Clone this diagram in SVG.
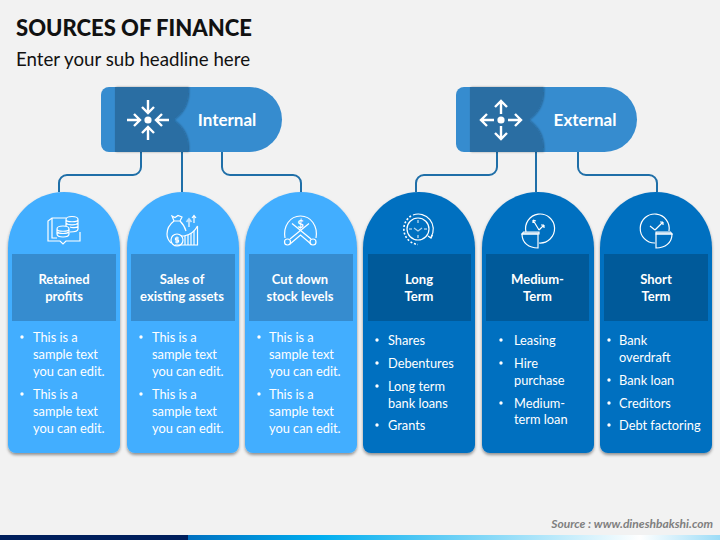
<svg xmlns="http://www.w3.org/2000/svg" width="720" height="540" viewBox="0 0 720 540">
<style>
text{font-family:"Lato","Open Sans","Liberation Sans",sans-serif;fill:#fff}
.t{font-size:12.800px}
.h{font-size:13px;font-weight:700;text-anchor:middle}
.n{font-size:17px;font-weight:700;text-anchor:middle}
.lc{fill:#42AEFF;filter:url(#s)}
.dc{fill:#0070C0;filter:url(#s)}
.lb{fill:#368CCF}
.db{fill:#005A9A}
.c{fill:none;stroke:#1F6FA8;stroke-width:2}
.i{fill:none;stroke:#fff;stroke-width:1.200}
.a{fill:none;stroke:#fff;stroke-width:2.400}
.p{fill:#368CCF}
.k{fill:#2A6EA3;filter:url(#s2)}
.b{fill:#fff}
</style>
<defs>
<filter id="s" x="-10%" y="-5%" width="120%" height="110%"><feDropShadow dx="0" dy="2" stdDeviation="1.500" flood-color="#000" flood-opacity=".4"/></filter>
<filter id="s2" x="-10%" y="-10%" width="120%" height="120%"><feDropShadow dx="1" dy="0" stdDeviation="1.200" flood-color="#000" flood-opacity=".35"/></filter>
<linearGradient id="g"><stop offset="0" stop-color="#0070C0"/><stop offset=".25" stop-color="#00AEEF"/><stop offset=".85" stop-color="#fff"/><stop offset="1" stop-color="#9CDCF7"/></linearGradient>
<path id="card" d="M0 56A56 56 0 0 1 112 56V253a8 8 0 0 1-8 8H8a8 8 0 0 1-8-8Z"/>
<path id="pill" d="M8 87H148.500A32.500 32.500 0 0 1 148.500 152H8a8 8 0 0 1-8-8V95a8 8 0 0 1 8-8Z"/>
<path id="dark" d="M14 87H87C88 103 82 113 72 120C82 127 88 137 87 152H14Z"/>
</defs>
<rect width="720" height="540" fill="#F2F2F2"/>
<text x="16" y="36" style="font-size:22px;font-weight:900;fill:#111" textLength="236" lengthAdjust="spacingAndGlyphs">SOURCES OF FINANCE</text>
<text x="16" y="66" style="font-size:18.700px;fill:#111">Enter your sub headline here</text>

<g id="connectors">
<path class="c" d="M141 152V167a8 8 0 0 1-8 8H67a8 8 0 0 0-8 8V192"/>
<path class="c" d="M182 152V192"/>
<path class="c" d="M222 152V167a8 8 0 0 0 8 8H293a8 8 0 0 1 8 8V192"/>
<path class="c" d="M497 152V167a8 8 0 0 1-8 8H424a8 8 0 0 0-8 8V192"/>
<path class="c" d="M536 152V192"/>
<path class="c" d="M578 152V167a8 8 0 0 0 8 8H649a8 8 0 0 1 8 8V192"/>
</g>

<g id="node-internal" transform="translate(101 0)">
<use href="#pill" class="p"/><use href="#dark" class="k"/>
<circle cx="47" cy="120" r="3.600" class="b"/>
<g transform="translate(47 120)">
<path class="a" d="M0-20V-7M-6-13L0-7L6-13"/><path class="a" d="M0 20V7M-6 13L0 7L6 13"/>
<path class="a" d="M-21 0H-8M-14-6L-8 0L-14 6"/><path class="a" d="M21 0H8M14-6L8 0L14 6"/>
</g>
<text x="126" y="126" class="n">Internal</text>
</g>

<g id="node-external" transform="translate(456 0)">
<use href="#pill" class="p"/><use href="#dark" class="k"/>
<circle cx="45" cy="120" r="3.600" class="b"/>
<g transform="translate(45 120)">
<path class="a" d="M0-6V-19M-6-13L0-19L6-13"/><path class="a" d="M0 6V19M-6 13L0 19L6 13"/>
<path class="a" d="M-7 0H-20M-14-6L-20 0L-14 6"/><path class="a" d="M7 0H20M14-6L20 0L14 6"/>
</g>
<text x="129" y="126" class="n">External</text>
</g>

<g id="card-retained" transform="translate(8 192)"><use href="#card" class="lc"/><rect x="4" y="62" width="104" height="67" class="lb"/>
<g class="i" transform="translate(-8 -192)">
<path d="M66 218H52L48 221V241H60L63 244L66 241H80V232"/><path d="M52 218V238H57"/>
<path d="M57 229C57 225 69 225 69 229V234C69 238 57 238 57 234ZM57 229C57 232 69 232 69 229M57 232C59 234 67 234 69 232"/>
<path d="M66 219.500C66 215.500 78 215.500 78 219.500V229C78 231 75 232 70 232M66 219.500C66 222.500 78 222.500 78 219.500M66 223C68 225.500 76 225.500 78 223M70 227C72 228 76 228 78 226.500M66 220V226"/>
</g>
<text x="56" y="284" class="h" transform="translate(0 -192)">Retained</text><text x="56" y="109" class="h">profits</text>
<g><circle cx="14" cy="145" r="1.700" class="b"/><text x="25" y="150" class="t">This is a</text><text x="25" y="167" class="t">sample text</text><text x="25" y="184" class="t">you can edit.</text>
<circle cx="14" cy="202" r="1.700" class="b"/><text x="25" y="207" class="t">This is a</text><text x="25" y="224" class="t">sample text</text><text x="25" y="241" class="t">you can edit.</text></g></g>

<g id="card-sales" transform="translate(127 192)"><use href="#card" class="lc"/><rect x="4" y="62" width="104" height="67" class="lb"/>
<g class="i" transform="translate(-127 -192)">
<path d="M172 216L175 217.500L178 215.500L182 217L180 221H174ZM174 221H180"/>
<path d="M174 221C170 224 167 229 167 234C167 238 169 241 171 243M180 221C183 224 185 227 186 231"/>
<circle cx="177" cy="240" r="6"/><path d="M179 238H175.500V240H178.500V242H175M177 236.500V243.500"/>
<path d="M181 236H184C190 235 195 231 197.500 226V245H175"/><path d="M185 236V245M188 235V245M191 233V245M194 231V245"/>
<path d="M189 227V220M186.500 222L189 219L191.500 222" stroke="#BFE3FF" stroke-width="1.800"/><path d="M194 223V216M192 218L194 215.500L196 218"/>
</g>
<text x="55" y="92" class="h">Sales of</text><text x="55" y="109" class="h">existing assets</text>
<g><circle cx="14" cy="145" r="1.700" class="b"/><text x="25" y="150" class="t">This is a</text><text x="25" y="167" class="t">sample text</text><text x="25" y="184" class="t">you can edit.</text>
<circle cx="14" cy="202" r="1.700" class="b"/><text x="25" y="207" class="t">This is a</text><text x="25" y="224" class="t">sample text</text><text x="25" y="241" class="t">you can edit.</text></g></g>

<g id="card-cut" transform="translate(245 192)"><use href="#card" class="lc"/><rect x="4" y="62" width="104" height="67" class="lb"/>
<g class="i" transform="translate(-245 -192)">
<path d="M285 238C283 226 290 216 300.500 216C311 216 318 226 316 238"/>
<path d="M290 239L309 223.500M311 239L292 223.500"/>
<circle cx="287.500" cy="242" r="3"/><circle cx="313" cy="242" r="3"/>
<path d="M290 244L300.500 235L311 244"/>
</g>
<text x="55.500" y="36" style="font-size:11px;font-weight:700;text-anchor:middle">$</text>
<text x="55" y="92" class="h">Cut down</text><text x="55" y="109" class="h">stock levels</text>
<g><circle cx="14" cy="145" r="1.700" class="b"/><text x="24" y="150" class="t">This is a</text><text x="24" y="167" class="t">sample text</text><text x="24" y="184" class="t">you can edit.</text>
<circle cx="14" cy="202" r="1.700" class="b"/><text x="24" y="207" class="t">This is a</text><text x="24" y="224" class="t">sample text</text><text x="24" y="241" class="t">you can edit.</text></g></g>

<g id="card-long" transform="translate(363 192)"><use href="#card" class="dc"/><rect x="5" y="62" width="103" height="67" class="db"/>
<g class="i" transform="translate(-363 -192)">
<circle cx="418" cy="229" r="11"/><path d="M414 228L418 231L422 228" opacity=".7"/><path d="M418 220V223M418 235V238M409 229H412M424 229H427" stroke-width="1.600" opacity=".6"/>
<path d="M413 215A15 15 0 0 1 431 237"/><path d="M428 236L431 238L432.500 235"/>
<path d="M411 216A15.500 15.500 0 0 0 418 244.500" stroke-dasharray="2 1.800" stroke-width="1.600"/>
</g>
<text x="56" y="92" class="h">Long</text><text x="56" y="109" class="h">Term</text>
<g><circle cx="14" cy="148" r="1.700" class="b"/><text x="25" y="153" class="t">Shares</text><circle cx="14" cy="171" r="1.700" class="b"/><text x="25" y="176" class="t">Debentures</text><circle cx="14" cy="194" r="1.700" class="b"/><text x="25" y="199" class="t">Long term</text><text x="25" y="216" class="t">bank loans</text><circle cx="14" cy="233" r="1.700" class="b"/><text x="25" y="238" class="t">Grants</text></g></g>

<g id="card-medium" transform="translate(482 192)"><use href="#card" class="dc"/><rect x="4" y="62" width="103" height="67" class="db"/>
<g class="i" transform="translate(-482 -192)">
<path d="M526 232A14.500 14.500 0 1 1 539 243"/>
<path d="M539 230L533 220M533 220V223M533 220L536 221M539 230L544 225M544 225H541M544 225V228"/>
<path d="M522 234H538V248C529 248 522 243 522 234Z"/><path d="M523.500 232H539V234H522Z" fill="#fff" fill-opacity=".5"/>
</g>
<text x="55.500" y="92" class="h">Medium-</text><text x="55.500" y="109" class="h">Term</text>
<g><circle cx="19" cy="148" r="1.700" class="b"/><text x="32" y="153" class="t">Leasing</text><circle cx="19" cy="171" r="1.700" class="b"/><text x="32" y="176" class="t">Hire</text><text x="32" y="193" class="t">purchase</text><circle cx="19" cy="211" r="1.700" class="b"/><text x="32" y="216" class="t">Medium-</text><text x="32" y="232" class="t">term loan</text></g></g>

<g id="card-short" transform="translate(600 192)"><use href="#card" class="dc"/><rect x="4" y="62" width="104" height="67" class="db"/>
<g class="i" transform="translate(-600 -192)">
<path d="M669 231A14.500 14.500 0 1 0 655 243"/>
<path d="M655 230L650 226M655 230L663 222M663 222H660M663 222V225"/>
<path d="M656 234H672C672 243 665 248 656 248Z"/><path d="M656 232H670.500L672 234H656Z" fill="#fff" fill-opacity=".5"/>
</g>
<text x="56" y="92" class="h">Short</text><text x="56" y="109" class="h">Term</text>
<g><circle cx="9" cy="148" r="1.700" class="b"/><text x="19" y="153" class="t">Bank</text><text x="19" y="170" class="t">overdraft</text><circle cx="9" cy="188" r="1.700" class="b"/><text x="19" y="193" class="t">Bank loan</text><circle cx="9" cy="211" r="1.700" class="b"/><text x="19" y="216" class="t">Creditors</text><circle cx="9" cy="233" r="1.700" class="b"/><text x="19" y="238" class="t">Debt factoring</text></g></g>

<text x="713" y="528" style="font-size:12px;font-weight:700;font-style:italic;text-anchor:end;fill:#7F7F7F">Source : www.dineshbakshi.com</text>
<rect y="535" width="188" height="5" fill="#001F5C"/>
<rect x="188" y="535" width="532" height="5" fill="url(#g)"/>
</svg>
